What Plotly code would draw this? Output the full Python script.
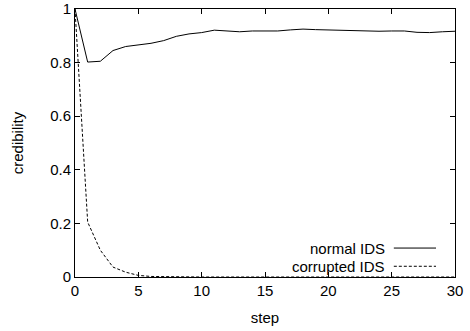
import plotly.graph_objects as go

steps = list(range(31))
normal_ids = [1.0, 0.802, 0.805, 0.845, 0.86, 0.865, 0.872, 0.882, 0.898, 0.907,
              0.912, 0.921, 0.917, 0.915, 0.918, 0.918, 0.918, 0.922, 0.925, 0.923,
              0.922, 0.92, 0.918, 0.918, 0.917, 0.918, 0.918, 0.913, 0.912, 0.915, 0.917]
corrupted_ids = [1.0, 0.205, 0.1, 0.037, 0.018, 0.006, 0.002, 0.001, 0.0, 0.0,
                 0.0, 0.0, 0.0, 0.0, 0.0, 0.0, 0.0, 0.0, 0.0, 0.0,
                 0.0, 0.0, 0.0, 0.0, 0.0, 0.0, 0.0, 0.0, 0.0, 0.0, 0.0]
x_ticks = [0, 5, 10, 15, 20, 25, 30]
y_ticks = [0, 0.2, 0.4, 0.6, 0.8, 1]
series_names = ["normal IDS", "corrupted IDS"]

font = dict(family="Liberation Sans, Arial, sans-serif", size=15, color="black")

fig = go.Figure()
fig.add_trace(go.Scatter(x=steps, y=normal_ids, mode="lines", name=series_names[0],
                         line=dict(color="black", width=1), showlegend=False))
fig.add_trace(go.Scatter(x=steps, y=corrupted_ids, mode="lines", name=series_names[1],
                         line=dict(color="black", width=1, dash="3px,2px"), showlegend=False))

# gnuplot-style legend: text right-aligned, line sample to the right
legend_y = [0.108, 0.040]
dashes = ["solid", "3px,2px"]
for name, ly, d in zip(series_names, legend_y, dashes):
    fig.add_annotation(x=0.812, y=ly, xref="paper", yref="paper", text=name,
                       showarrow=False, xanchor="right", yanchor="middle", font=font,
                       xshift=2, borderpad=0)
    fig.add_shape(type="line", xref="paper", yref="paper", x0=0.839, x1=0.95,
                  y0=ly, y1=ly, line=dict(color="black", width=1, dash=d))

axis_common = dict(showline=True, linecolor="black", linewidth=1, mirror="allticks",
                   ticks="inside", ticklen=5, tickcolor="black", tickwidth=1,
                   showgrid=False, zeroline=False, tickfont=font, automargin=False)
fig.update_xaxes(range=[0, 30], tickvals=x_ticks, title=dict(text="step", font=font, standoff=14),
                 **axis_common)
fig.update_yaxes(range=[0, 1], tickvals=y_ticks, title=dict(text="credibility", font=font, standoff=22),
                 **axis_common)
fig.update_layout(width=470, height=331, margin=dict(l=75, r=15, t=9, b=54),
                  plot_bgcolor="white", paper_bgcolor="white", font=font)
fig.write_html("out.html")
